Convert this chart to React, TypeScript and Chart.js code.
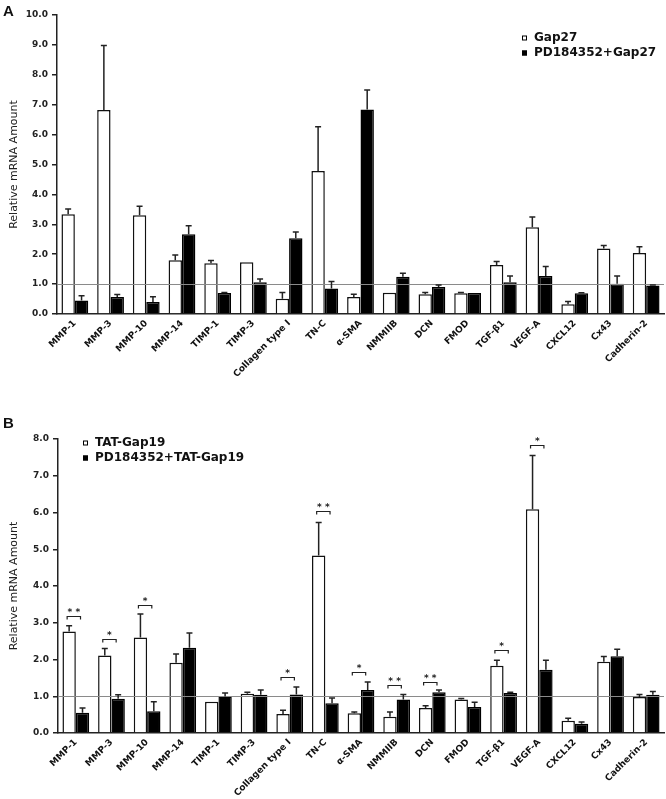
import React, { useEffect, useRef } from 'react';
import { Chart, registerables } from 'chart.js';

Chart.register(...registerables);

// ---------- data ----------
const categories = [
  'MMP-1', 'MMP-3', 'MMP-10', 'MMP-14', 'TIMP-1', 'TIMP-3', 'Collagen type I', 'TN-C',
  'α-SMA', 'NMMIIB', 'DCN', 'FMOD', 'TGF-β1', 'VEGF-A', 'CXCL12', 'Cx43', 'Cadherin-2',
];

// Panel A
const seriesA1Label = 'Gap27';
const seriesA2Label = 'PD184352+Gap27';
const gap27 = [3.34, 6.82, 3.30, 1.80, 1.70, 1.73, 0.51, 4.78, 0.57, 0.71, 0.66, 0.69, 1.64, 2.90, 0.33, 2.19, 2.04];
const gap27Err = [0.17, 2.16, 0.30, 0.17, 0.09, 0.0, 0.21, 1.48, 0.09, 0.01, 0.06, 0.03, 0.12, 0.34, 0.09, 0.10, 0.21];
const pdGap27 = [0.45, 0.57, 0.40, 2.67, 0.70, 1.06, 2.53, 0.85, 6.84, 1.25, 0.90, 0.70, 1.06, 1.27, 0.69, 1.01, 0.95];
const pdGap27Err = [0.16, 0.08, 0.18, 0.28, 0.02, 0.11, 0.21, 0.24, 0.65, 0.11, 0.07, 0.0, 0.21, 0.32, 0.02, 0.26, 0.02];
const yMaxA = 10;

// Panel B
const seriesB1Label = 'TAT-Gap19';
const seriesB2Label = 'PD184352+TAT-Gap19';
const tatGap19 = [2.76, 2.11, 2.60, 1.91, 0.85, 1.07, 0.52, 4.83, 0.54, 0.44, 0.68, 0.91, 1.83, 6.09, 0.33, 1.94, 0.98];
const tatGap19Err = [0.16, 0.19, 0.64, 0.24, 0.0, 0.04, 0.10, 0.90, 0.03, 0.13, 0.06, 0.03, 0.15, 1.46, 0.07, 0.14, 0.07];
const pdTatGap19 = [0.55, 0.93, 0.59, 2.32, 0.99, 1.04, 1.05, 0.81, 1.17, 0.91, 1.11, 0.71, 1.09, 1.72, 0.25, 2.09, 1.04];
const pdTatGap19Err = [0.13, 0.11, 0.26, 0.40, 0.10, 0.13, 0.20, 0.14, 0.22, 0.14, 0.06, 0.13, 0.02, 0.26, 0.05, 0.19, 0.09];
const yMaxB = 8;

// significance brackets for panel B: category index, bracket level, stars
const sigIndexB = [0, 1, 2, 6, 7, 8, 9, 10, 12, 13];
const sigLevelB = [3.18, 2.56, 3.47, 1.52, 6.05, 1.66, 1.31, 1.39, 2.25, 7.85];
const sigStarsB = ['**', '*', '*', '*', '**', '*', '**', '**', '*', '*'];

const refValue = 1.0;

// ---------- chart factory ----------
type PanelCfg = {
  letter: string;
  letterY: number;
  s1: number[]; e1: number[]; l1: string;
  s2: number[]; e2: number[]; l2: string;
  yMax: number;
  yWidth: number;
  xHeight: number;
  padTop: number;
  legendX: number;
  legendY: number;
  sigIdx?: number[]; sigLvl?: number[]; sigStars?: string[];
};

function makeOverlay(cfg: PanelCfg) {
  return {
    id: 'overlay' + cfg.letter,
    afterDatasetsDraw(chart: any) {
      const ctx = chart.ctx;
      const y = chart.scales.y;
      const area = chart.chartArea;
      ctx.save();
      // reference line
      const ry = Math.round(y.getPixelForValue(refValue)) + 0.5;
      ctx.strokeStyle = '#8a8a8a';
      ctx.lineWidth = 1;
      ctx.beginPath();
      ctx.moveTo(area.left, ry);
      ctx.lineTo(area.right, ry);
      ctx.stroke();
      // error bars
      const errs = [cfg.e1, cfg.e2];
      chart.data.datasets.forEach((ds: any, di: number) => {
        const meta = chart.getDatasetMeta(di);
        meta.data.forEach((bar: any, i: number) => {
          const v = ds.data[i];
          const e = errs[di][i];
          if (!e || e < 0.015) return;
          const top = y.getPixelForValue(v);
          const et = y.getPixelForValue(v + e);
          ctx.strokeStyle = '#222';
          ctx.lineWidth = 1.5;
          ctx.beginPath();
          ctx.moveTo(bar.x, top);
          ctx.lineTo(bar.x, et);
          ctx.moveTo(bar.x - 3, et);
          ctx.lineTo(bar.x + 3, et);
          ctx.stroke();
        });
      });
      // significance brackets
      if (cfg.sigIdx) {
        const m0 = chart.getDatasetMeta(0);
        const m1 = chart.getDatasetMeta(1);
        cfg.sigIdx.forEach((ci, k) => {
          const x0 = m0.data[ci].x - 2;
          const x1 = m1.data[ci].x - 2;
          const by = Math.round(y.getPixelForValue(cfg.sigLvl![k])) + 0.5;
          ctx.strokeStyle = '#222';
          ctx.lineWidth = 1.2;
          ctx.beginPath();
          ctx.moveTo(x0, by + 3);
          ctx.lineTo(x0, by);
          ctx.lineTo(x1, by);
          ctx.lineTo(x1, by + 3);
          ctx.stroke();
          ctx.fillStyle = '#222';
          ctx.font = 'bold 9px "DejaVu Sans"';
          ctx.textAlign = 'center';
          ctx.textBaseline = 'alphabetic';
          ctx.fillText(cfg.sigStars![k].split('').join(' '), (x0 + x1) / 2, by - 2);
        });
      }
      // legend
      const labels = [cfg.l1, cfg.l2];
      const fills = ['#ffffff', '#000000'];
      labels.forEach((lab, i) => {
        const cy = cfg.legendY + i * 15;
        ctx.fillStyle = fills[i];
        ctx.fillRect(cfg.legendX, cy - 2.5, 5, 5);
        ctx.strokeStyle = '#000';
        ctx.lineWidth = 1;
        ctx.strokeRect(cfg.legendX + 0.5, cy - 2, 4, 4);
        ctx.fillStyle = '#111';
        ctx.font = 'bold 12px "DejaVu Sans"';
        ctx.textAlign = 'left';
        ctx.textBaseline = 'middle';
        ctx.fillText(lab, cfg.legendX + 12, cy);
      });
      // panel letter
      ctx.fillStyle = '#111';
      ctx.font = 'bold 15px "Liberation Sans", Arial';
      ctx.textAlign = 'left';
      ctx.textBaseline = 'top';
      ctx.fillText(cfg.letter, 3, cfg.letterY);
      ctx.restore();
    },
  };
}

function Panel({ cfg, top, height }: { cfg: PanelCfg; top: number; height: number }) {
  const ref = useRef<HTMLCanvasElement | null>(null);
  useEffect(() => {
    if (!ref.current) return;
    const chart = new Chart(ref.current, {
      type: 'bar',
      data: {
        labels: categories,
        datasets: [
          {
            label: cfg.l1,
            data: cfg.s1,
            backgroundColor: '#ffffff',
            borderColor: '#111111',
            borderWidth: 1.5,
            categoryPercentage: 0.75,
            barPercentage: 1.0,
          },
          {
            label: cfg.l2,
            data: cfg.s2,
            backgroundColor: '#000000',
            borderColor: '#000000',
            borderWidth: 1.5,
            categoryPercentage: 0.75,
            barPercentage: 1.0,
          },
        ],
      },
      options: {
        responsive: false,
        animation: false,
        devicePixelRatio: 1,
        layout: { padding: { left: 0, right: 2, top: cfg.padTop, bottom: 0 } },
        plugins: { legend: { display: false }, tooltip: { enabled: false } },
        scales: {
          x: {
            grid: { display: false, drawTicks: false },
            border: { display: true, color: '#222', width: 1.5 },
            ticks: {
              autoSkip: false,
              minRotation: 45,
              maxRotation: 45,
              padding: 4,
              color: '#111',
              font: { family: '"DejaVu Sans"', weight: 'bold', size: 9 },
            },
            afterFit: (s: any) => { s.height = cfg.xHeight; },
          },
          y: {
            min: 0,
            max: cfg.yMax,
            ticks: {
              stepSize: 1,
              padding: 4,
              color: '#222',
              font: { family: '"DejaVu Sans"', weight: 'bold', size: 9 },
              callback: (v: any) => Number(v).toFixed(1),
            },
            grid: { drawOnChartArea: false, drawTicks: true, tickLength: 5, color: '#222', lineWidth: 1.5 },
            border: { display: true, color: '#222', width: 1.5 },
            title: {
              display: true,
              text: 'Relative mRNA Amount',
              color: '#222',
              font: { family: '"DejaVu Sans"', size: 11 },
              padding: { top: 8, bottom: 0 },
            },
            afterFit: (s: any) => { s.width = cfg.yWidth; },
          },
        },
      } as any,
      plugins: [makeOverlay(cfg)],
    });
    return () => chart.destroy();
  }, []);
  return (
    <div style={{ position: 'absolute', left: 0, top, width: 666, height }}>
      <canvas ref={ref} width={666} height={height} style={{ display: 'block' }} />
    </div>
  );
}

const cfgA: PanelCfg = {
  letter: 'A', letterY: 4,
  s1: gap27, e1: gap27Err, l1: seriesA1Label,
  s2: pdGap27, e2: pdGap27Err, l2: seriesA2Label,
  yMax: yMaxA, yWidth: 57, xHeight: 86, padTop: 15,
  legendX: 522, legendY: 38,
};

const cfgB: PanelCfg = {
  letter: 'B', letterY: 16,
  s1: tatGap19, e1: tatGap19Err, l1: seriesB1Label,
  s2: pdTatGap19, e2: pdTatGap19Err, l2: seriesB2Label,
  yMax: yMaxB, yWidth: 58, xHeight: 66, padTop: 39,
  legendX: 83, legendY: 43,
  sigIdx: sigIndexB, sigLvl: sigLevelB, sigStars: sigStarsB,
};

export default function App() {
  return (
    <div style={{ position: 'absolute', left: 0, top: 0, width: 666, height: 799, background: '#fff' }}>
      <Panel cfg={cfgA} top={0} height={400} />
      <Panel cfg={cfgB} top={400} height={399} />
    </div>
  );
}
